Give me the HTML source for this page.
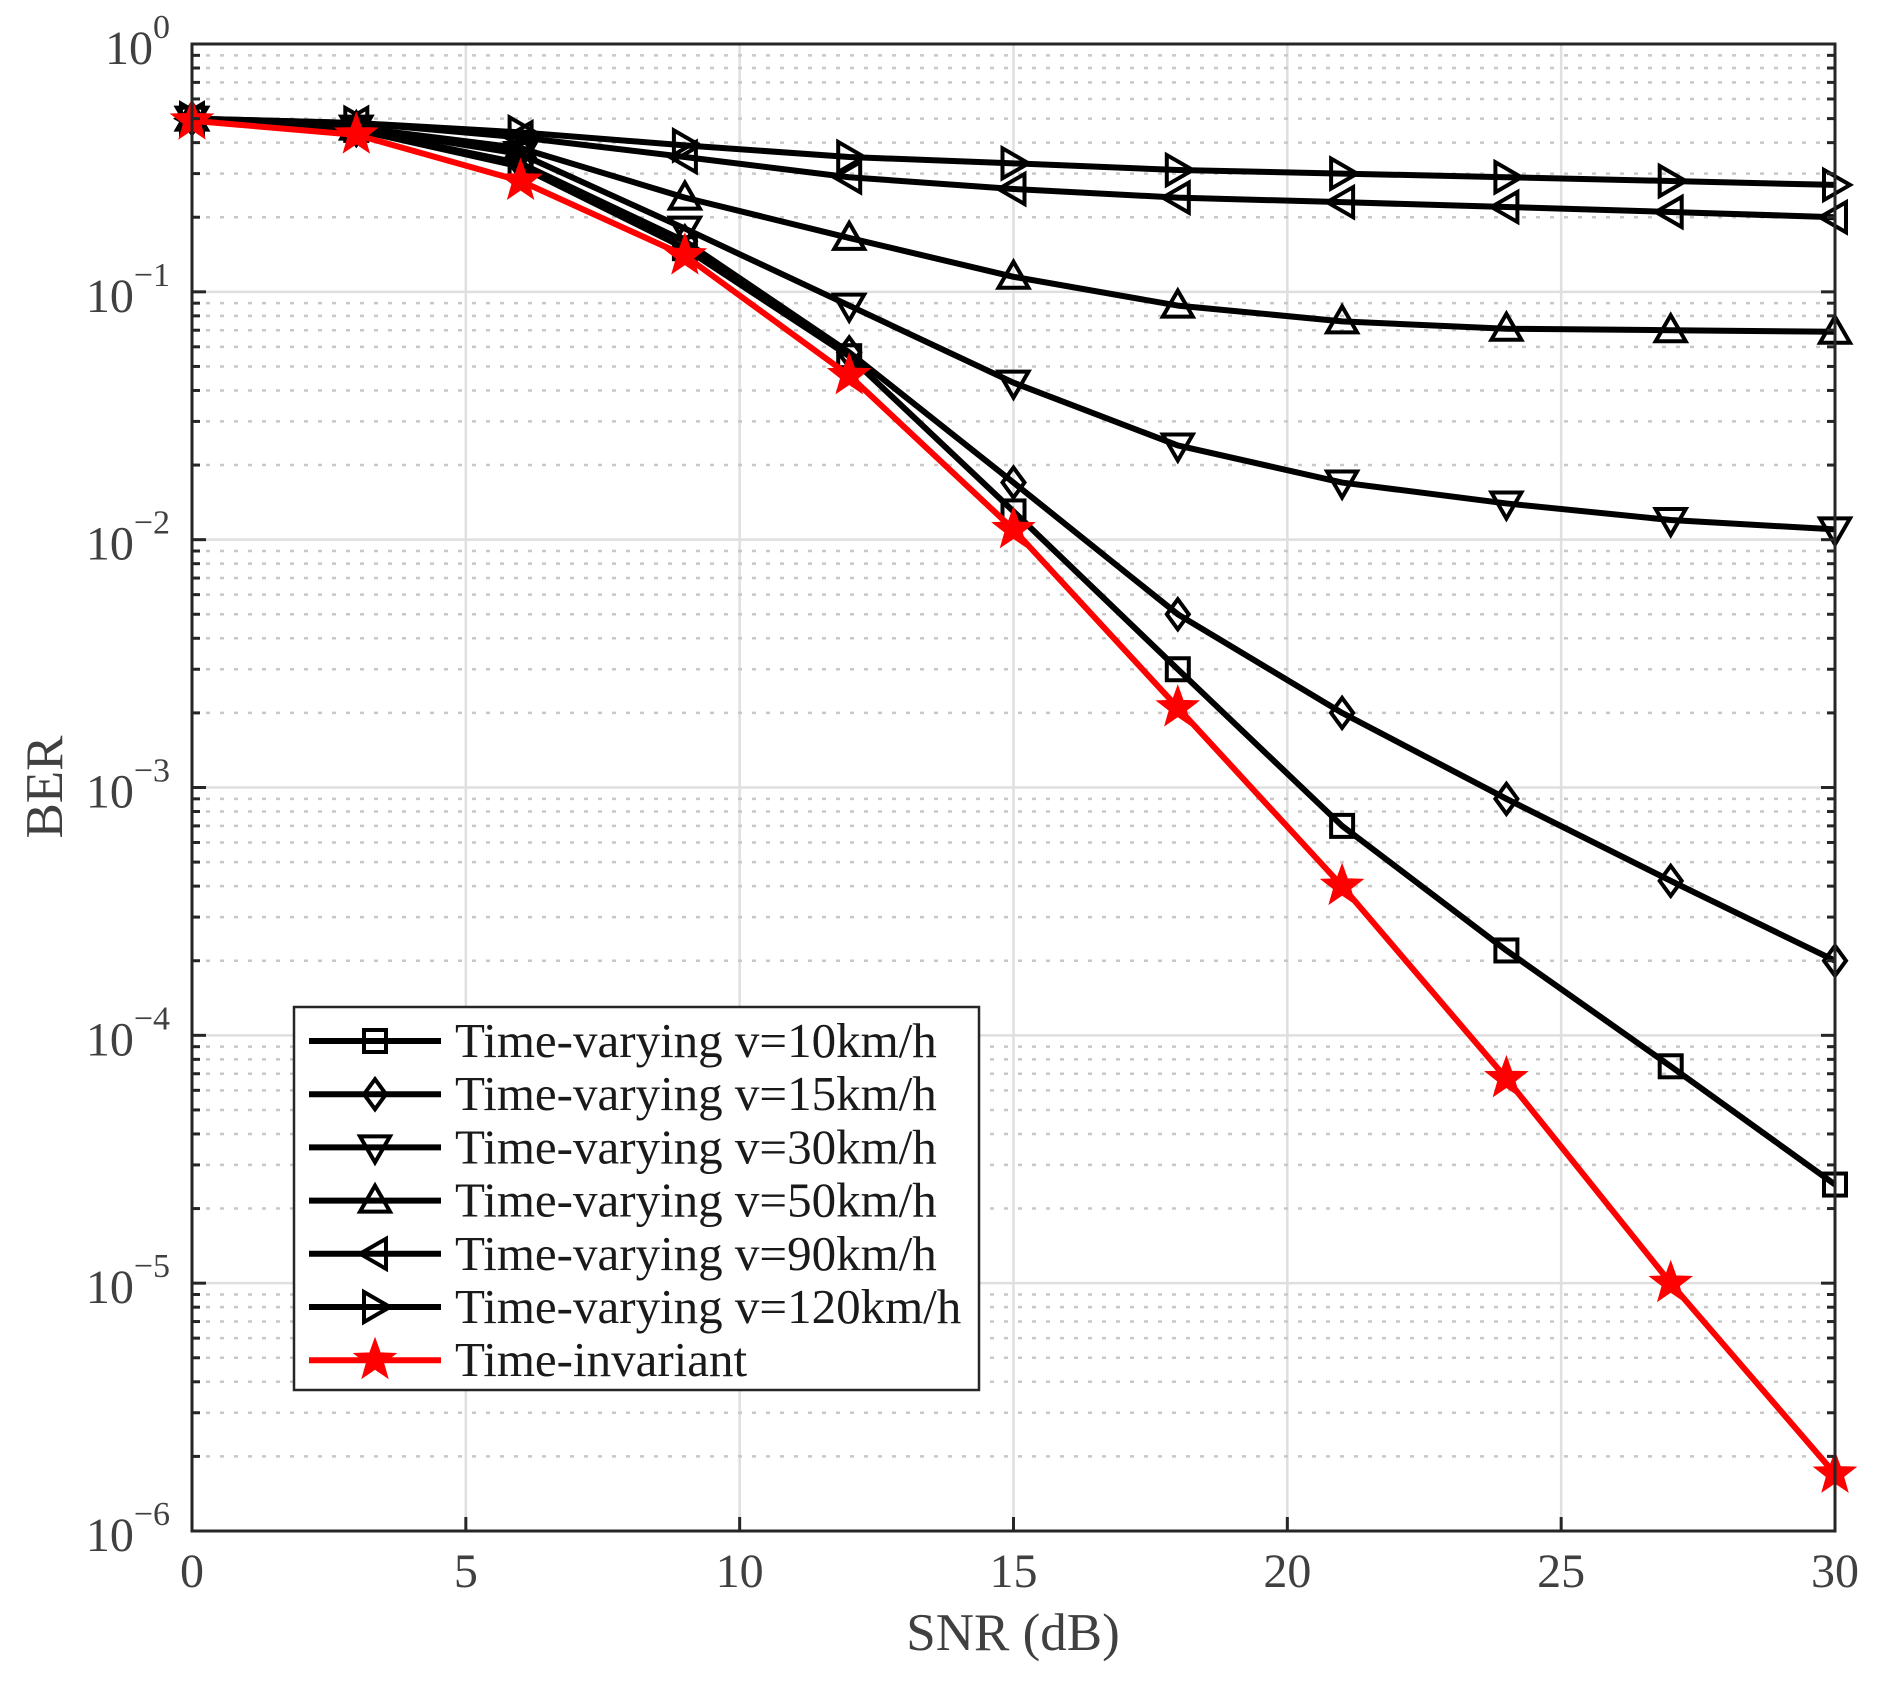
<!DOCTYPE html>
<html><head><meta charset="utf-8"><style>
body{margin:0;background:#fff}
svg text{font-family:"Liberation Serif",serif;fill:#404040}
</style></head><body>
<svg id="chart" width="1877" height="1678" viewBox="0 0 1877 1678" xmlns="http://www.w3.org/2000/svg">
<g id="grid"></g>
<g id="series"></g>
<rect x="192" y="44" width="1643" height="1487" fill="none" stroke="#262626" stroke-width="3"/>
<g id="ticks"></g>
<text x="1013" y="1650" font-size="53" text-anchor="middle">SNR (dB)</text>
<text x="62" y="787" font-size="53" text-anchor="middle" transform="rotate(-90 62 787)">BER</text>
<g id="legend"></g>
</svg>
<script>
const snr=[0,3,6,9,12,15,18,21,24,27,30];
const v10=[0.5,0.45,0.32,0.15,0.055,0.013,0.003,7e-4,2.2e-4,7.5e-5,2.5e-5];
const v15=[0.5,0.45,0.33,0.16,0.057,0.017,0.005,0.002,9e-4,4.2e-4,2e-4];
const v30=[0.5,0.46,0.36,0.18,0.088,0.043,0.024,0.017,0.014,0.012,0.011];
const v50=[0.5,0.46,0.38,0.24,0.165,0.115,0.088,0.076,0.071,0.07,0.069];
const v90=[0.5,0.48,0.42,0.35,0.29,0.26,0.24,0.23,0.22,0.21,0.2];
const v120=[0.5,0.48,0.44,0.39,0.35,0.33,0.31,0.30,0.29,0.28,0.27];
const vInv=[0.49,0.43,0.28,0.14,0.046,0.011,0.0021,4e-4,6.7e-5,1e-5,1.7e-6];
const xTicks=[0,5,10,15,20,25,30];
const yExps=[0,-1,-2,-3,-4,-5,-6];
const labels=["Time-varying v=10km/h","Time-varying v=15km/h","Time-varying v=30km/h","Time-varying v=50km/h","Time-varying v=90km/h","Time-varying v=120km/h","Time-invariant"];

const L=192,R=1835,T=44,B=1531;
const xs=v=>L+(v-0)/30*(R-L);
const ys=v=>T+(0-Math.log10(v))/6*(B-T);
const NS="http://www.w3.org/2000/svg";
function mk(tag,attrs,parent){const e=document.createElementNS(NS,tag);for(const k in attrs)e.setAttribute(k,attrs[k]);parent.appendChild(e);return e;}
const grid=document.getElementById('grid'),ticks=document.getElementById('ticks'),ser=document.getElementById('series'),leg=document.getElementById('legend');

for(const t of xTicks){
 if(t>0&&t<30){const g=mk('line',{x1:xs(t),x2:xs(t),y1:T,y2:B,stroke:'#dfdfdf','stroke-width':2.5},grid);
 
 }
 const tk=mk('line',{x1:xs(t),x2:xs(t),y1:B,y2:B-14,stroke:'#262626','stroke-width':3},ticks);
 
 
 const tx=mk('text',{x:xs(t),y:B+56,'font-size':48,'text-anchor':'middle'},ticks);
 tx.textContent=t;
 
 
}
for(const e of yExps){
 const y=ys(Math.pow(10,e));
 if(e<0&&e>-6){const g=mk('line',{x1:L,x2:R,y1:y,y2:y,stroke:'#dfdfdf','stroke-width':2.5},grid);
 
 }
 for(const s of [L,R]){const tk=mk('line',{x1:s,x2:s===L?s+14:s-14,y1:y,y2:y,stroke:'#262626','stroke-width':3},ticks);
 
 }
 const tx=mk('text',{x:L-22,y:y+20,'font-size':48,'text-anchor':'end'},ticks);
 tx.innerHTML='10<tspan dy="-26" font-size="34">'+(e===0?'0':'\u2212'+(-e))+'</tspan>';
 
 
 if(e>-6){for(let m=2;m<=9;m++){const yy=ys(m*Math.pow(10,e-1));
  const g=mk('line',{x1:L,x2:R,y1:yy,y2:yy,stroke:'#c8c8c8','stroke-width':2.5,'stroke-dasharray':'4 10'},grid);
  
  
  for(const s of [L,R]){const tk=mk('line',{x1:s,x2:s===L?s+8:s-8,y1:yy,y2:yy,stroke:'#262626','stroke-width':3},ticks);
  
  }}}
}

function marker(type,x,y,color,parent){
 const r=15,h=11;let e;
 const st={fill:'none',stroke:color,'stroke-width':4};
 if(type==='sq')e=mk('rect',Object.assign({x:x-11,y:y-11,width:22,height:22},st),parent);
 else if(type==='di')e=mk('polygon',Object.assign({points:`${x},${y-r} ${x+h},${y} ${x},${y+r} ${x-h},${y}`},st),parent);
 else if(type==='dn')e=mk('polygon',Object.assign({points:`${x-r},${y-h} ${x+r},${y-h} ${x},${y+r}`},st),parent);
 else if(type==='up')e=mk('polygon',Object.assign({points:`${x-r},${y+h} ${x+r},${y+h} ${x},${y-r}`},st),parent);
 else if(type==='lt')e=mk('polygon',Object.assign({points:`${x+h},${y-r} ${x+h},${y+r} ${x-r},${y}`},st),parent);
 else if(type==='rt')e=mk('polygon',Object.assign({points:`${x-h},${y-r} ${x-h},${y+r} ${x+r},${y}`},st),parent);
 else {let p=[];for(let i=0;i<10;i++){const a=-Math.PI/2+i*Math.PI/5;const rr=i%2?9:22;p.push((x+rr*Math.cos(a)).toFixed(1)+','+(y+rr*Math.sin(a)).toFixed(1));}
  e=mk('polygon',{points:p.join(' '),fill:color,stroke:color,'stroke-width':1},parent);}
 return e;
}
const series=[[v10,'sq','#000'],[v15,'di','#000'],[v30,'dn','#000'],[v50,'up','#000'],[v90,'lt','#000'],[v120,'rt','#000'],[vInv,'st','#ff0000']];
const names=['series-10kmh','series-15kmh','series-30kmh','series-50kmh','series-90kmh','series-120kmh','series-time-invariant'];
series.forEach(([d,m,c],i)=>{
 const g=mk('g',{},ser);
 
 
 const pl=mk('polyline',{points:snr.map((x,j)=>xs(x)+','+ys(d[j])).join(' '),fill:'none',stroke:c,'stroke-width':6,'stroke-linejoin':'round'},g);
 
 
 snr.forEach((x,j)=>{const mm=marker(m,xs(x),ys(d[j]),c,g);
  
  });
});
const box=mk('rect',{x:294,y:1007,width:685,height:383,fill:'#fff',stroke:'#262626','stroke-width':2.5},leg);


series.forEach(([d,m,c],i)=>{
 const y=1041+i*53.2;
 const g=mk('g',{},leg);
 
 
 mk('line',{x1:309,x2:441,y1:y,y2:y,stroke:c,'stroke-width':6},g);
 marker(m,375,y,c,g);
 const t=mk('text',{x:455,y:y+16,'font-size':49},g);
 t.textContent=labels[i];
 t.style.fill='#1a1a1a';
});
</script>
</body></html>
